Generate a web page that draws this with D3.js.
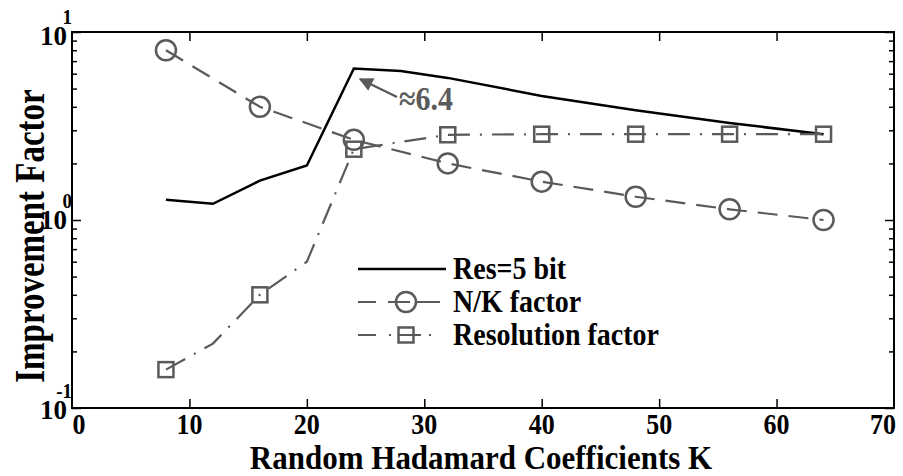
<!DOCTYPE html>
<html>
<head>
<meta charset="utf-8">
<script src="https://cdn.jsdelivr.net/npm/d3@7"></script>
<style>
  html, body { margin: 0; padding: 0; background: #fff; }
  svg { display: block; }
  text { font-family: "Liberation Serif", "Times New Roman", serif; font-weight: bold; }
</style>
</head>
<body>
<svg id="chart" width="903" height="476"></svg>
<script>
// ---- data ----
const kRes = [8, 12, 16, 20, 24, 28, 32, 40, 48, 56, 64];
const res5bit = [1.28, 1.22, 1.62, 1.95, 6.4, 6.2, 5.7, 4.57, 3.84, 3.28, 2.86];

const kNK = [8, 16, 24, 32, 40, 48, 56, 64];
const nkFactor = [8, 4, 2.67, 2, 1.6, 1.33, 1.14, 1];

const kRF = [8, 12, 16, 20, 24, 32, 40, 48, 56, 64];
const rfFactor = [0.16, 0.22, 0.40, 0.60, 2.38, 2.84, 2.86, 2.86, 2.86, 2.86];
const kRFMarkers = [8, 16, 24, 32, 40, 48, 56, 64];

const xTicks = [0, 10, 20, 30, 40, 50, 60, 70];
const yMajor = [0.1, 1, 10];
const yMajorExp = ["-1", "0", "1"];
const seriesNames = ["Res=5 bit", "N/K factor", "Resolution factor"];
const annotationText = "\u22486.4";
const xTitle = "Random Hadamard Coefficients K";
const yTitle = "Improvement Factor";

// ---- layout ----
const svg = d3.select("#chart");
const L = 72, R = 894, T = 32, B = 408;
const x = d3.scaleLinear().domain([0, 70]).range([L, R]);
const y = d3.scaleLog().domain([0.1, 10]).range([B, T]);
const gray = "#5a5a5a";

// text helper with vertical stretch (glyphs in reference are tall)
function txt(g, tx, ty, str, size, anchor, sy, extra) {
  return g.append("text")
    .attr("transform", `translate(${tx},${ty})${extra || ""} scale(1,${sy})`)
    .attr("text-anchor", anchor).attr("font-size", size).text(str);
}

const yMinor = [];
[0.1, 1].forEach(d => { for (let i = 2; i <= 9; i++) yMinor.push(+(d * i).toFixed(3)); });

// ---- axes ticks (inward) ----
svg.append("g").attr("transform", `translate(0,${B})`)
  .call(d3.axisBottom(x).tickValues(xTicks.slice(1, -1)).tickSize(-9).tickFormat(""))
  .call(g => g.select(".domain").remove());
svg.append("g").attr("transform", `translate(0,${T})`)
  .call(d3.axisTop(x).tickValues(xTicks.slice(1, -1)).tickSize(-9).tickFormat(""))
  .call(g => g.select(".domain").remove());
svg.append("g").attr("transform", `translate(${L},0)`)
  .call(d3.axisLeft(y).tickValues(yMinor).tickSize(-5).tickFormat(""))
  .call(g => g.select(".domain").remove());
svg.append("g").attr("transform", `translate(${L},0)`)
  .call(d3.axisLeft(y).tickValues(yMajor).tickSize(-9).tickFormat(""))
  .call(g => g.select(".domain").remove());
svg.append("g").attr("transform", `translate(${R},0)`)
  .call(d3.axisRight(y).tickValues(yMinor).tickSize(-5).tickFormat(""))
  .call(g => g.select(".domain").remove());
svg.append("g").attr("transform", `translate(${R},0)`)
  .call(d3.axisRight(y).tickValues(yMajor).tickSize(-9).tickFormat(""))
  .call(g => g.select(".domain").remove());
svg.selectAll(".tick line").attr("stroke", "#000").attr("stroke-width", 1.5);

// frame
svg.append("rect").attr("x", L).attr("y", T).attr("width", R - L).attr("height", B - T)
  .attr("fill", "none").attr("stroke", "#000").attr("stroke-width", 2);

// x tick labels
const xl = svg.append("g");
xTicks.forEach(d => {
  const px = d === 0 ? x(d) + 7 : (d === 70 ? x(d) - 11 : x(d));
  txt(xl, px, B + 26, d, 26, "middle", 1.14);
});

// y tick labels 10^n
const yl = svg.append("g");
yMajor.forEach((v, i) => {
  let cy = y(v);
  if (i === 2) cy += 4;
  if (i === 0) cy += 2;
  txt(yl, 67, cy + 9, "10", 27, "end", 1.05);
  txt(yl, 72, cy - 12, yMajorExp[i], 19, "end", 1.05);
});

// titles
txt(svg, 481, 469, xTitle, 31, "middle", 1.1);
txt(svg, 44, 236, yTitle, 33, "middle", 1.3, " rotate(-90)");

// ---- series ----
const line = d3.line().x(d => x(d[0])).y(d => y(d[1]));

svg.append("path").datum(d3.zip(kRes, res5bit)).attr("d", line)
  .attr("fill", "none").attr("stroke", "#000").attr("stroke-width", 2.5);

svg.append("path").datum(d3.zip(kNK, nkFactor)).attr("d", line)
  .attr("fill", "none").attr("stroke", gray).attr("stroke-width", 2.2)
  .attr("stroke-dasharray", "20,11");

svg.append("path").datum(d3.zip(kRF, rfFactor)).attr("d", line)
  .attr("fill", "none").attr("stroke", gray).attr("stroke-width", 2.2)
  .attr("stroke-dasharray", "22,10,2,10");

svg.append("g").selectAll("circle").data(d3.zip(kNK, nkFactor)).join("circle")
  .attr("cx", d => x(d[0])).attr("cy", d => y(d[1])).attr("r", 10)
  .attr("fill", "none").attr("stroke", gray).attr("stroke-width", 2.5);

const rfMap = new Map(d3.zip(kRF, rfFactor));
svg.append("g").selectAll("rect").data(kRFMarkers).join("rect")
  .attr("x", d => x(d) - 7.5).attr("y", d => y(rfMap.get(d)) - 7.5)
  .attr("width", 15).attr("height", 15)
  .attr("fill", "none").attr("stroke", gray).attr("stroke-width", 2.5);

// ---- annotation ----
const defs = svg.append("defs");
defs.append("marker").attr("id", "ah").attr("viewBox", "0 0 10 10")
  .attr("refX", 9).attr("refY", 5).attr("markerWidth", 17).attr("markerHeight", 14)
  .attr("orient", "auto").attr("markerUnits", "userSpaceOnUse")
  .append("path").attr("d", "M0,0 L10,5 L0,10 z").attr("fill", gray);
svg.append("line").attr("x1", 397).attr("y1", 97).attr("x2", 360).attr("y2", 79)
  .attr("stroke", gray).attr("stroke-width", 2.5).attr("marker-end", "url(#ah)");
txt(svg, 399, 110, annotationText, 30, "start", 1.12).attr("fill", gray);

// ---- legend ----
const lg = svg.append("g");
const rows = [269, 302, 335];
lg.append("line").attr("x1", 358).attr("x2", 446).attr("y1", rows[0]).attr("y2", rows[0])
  .attr("stroke", "#000").attr("stroke-width", 2.5);
lg.append("line").attr("x1", 358).attr("x2", 440).attr("y1", rows[1]).attr("y2", rows[1])
  .attr("stroke", gray).attr("stroke-width", 2.2).attr("stroke-dasharray", "18,12,22,6,30");
lg.append("circle").attr("cx", 406).attr("cy", rows[1]).attr("r", 10)
  .attr("fill", "none").attr("stroke", gray).attr("stroke-width", 2.5);
lg.append("line").attr("x1", 358).attr("x2", 436).attr("y1", rows[2]).attr("y2", rows[2])
  .attr("stroke", gray).attr("stroke-width", 2.2).attr("stroke-dasharray", "18,13,2,8,22,8,2");
lg.append("rect").attr("x", 398.5).attr("y", rows[2] - 7.5).attr("width", 15).attr("height", 15)
  .attr("fill", "none").attr("stroke", gray).attr("stroke-width", 2.5);
seriesNames.forEach((s, i) => {
  txt(lg, 453, rows[i] + 10, s, 28, "start", 1.12);
});
</script>
</body>
</html>
